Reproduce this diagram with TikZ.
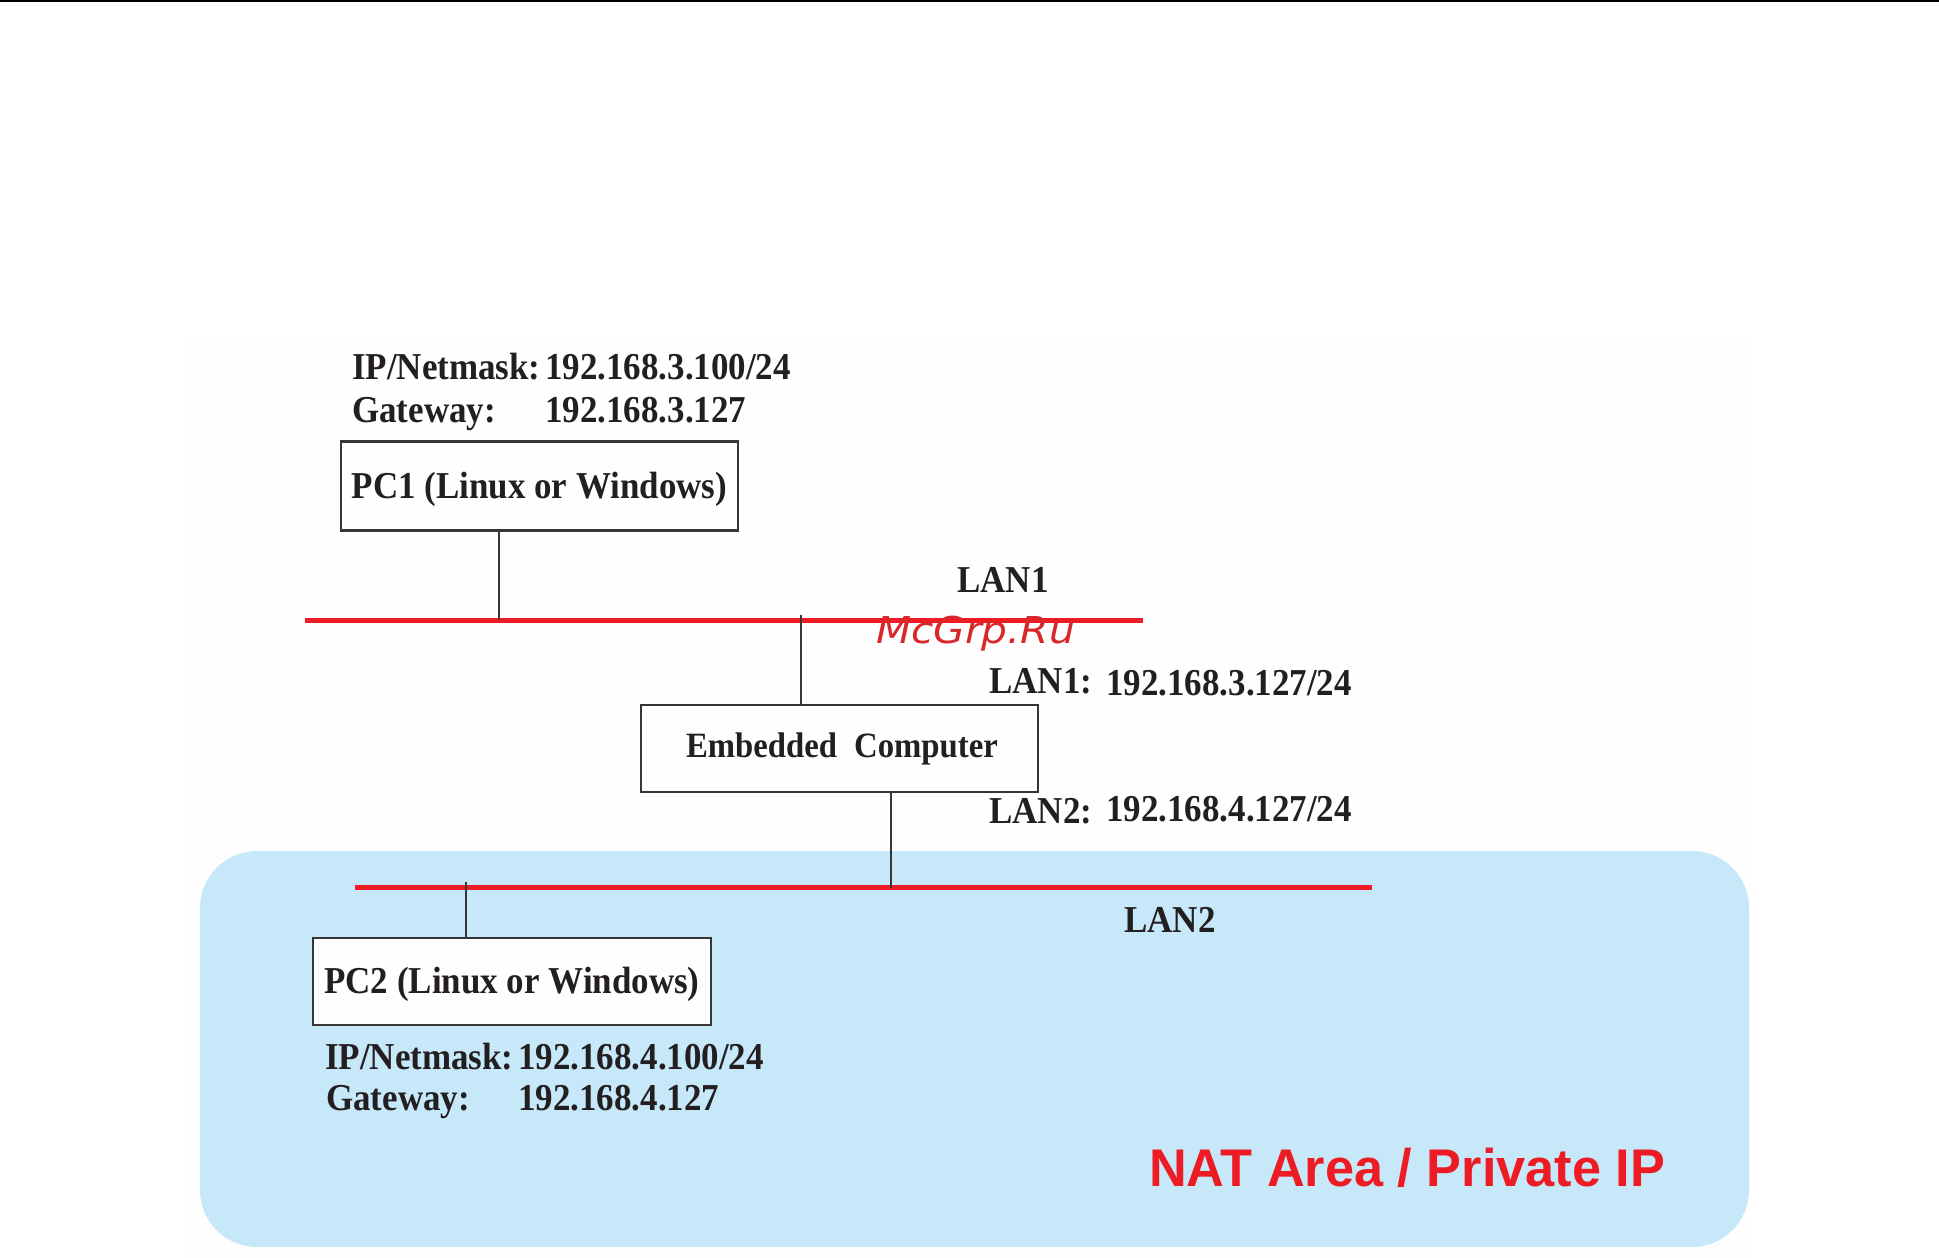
\documentclass[tikz,border=0pt]{standalone}
\usepackage{fontspec}
\newfontfamily\labfont[FakeStretch=0.92]{Liberation Serif}
\newfontfamily\natfont[FakeStretch=0.986]{Liberation Sans}
\newfontfamily\wmfont[FakeStretch=1.1]{DejaVu Sans}
\definecolor{ink}{HTML}{231F20}
\definecolor{busred}{HTML}{ED1C24}
\definecolor{natblue}{HTML}{C6E8F9}
\definecolor{wmred}{HTML}{D8282C}
\definecolor{paper}{HTML}{FEFEFE}
\tikzset{
  lab/.style={anchor=base west,inner sep=0pt,text=ink,font=\labfont\bfseries\fontsize{38}{38}\selectfont},
  hostbox/.style={draw=ink!90,line width=2.6pt,fill=paper,inner sep=0pt,text=ink,font=\labfont\bfseries\fontsize{38}{38}\selectfont},
  bus/.style={draw=busred,line width=5pt},
  wire/.style={draw=ink!90,line width=2.3pt},
}
\begin{document}
\begin{tikzpicture}[x=1pt,y=-1pt]
\useasboundingbox (0,0) rectangle (1939,1258);
\fill[white] (0,0) rectangle (1939,1258);
\fill[paper] (185,340) rectangle (1750,1258);
\draw[black,line width=2pt] (0,0.5) -- (1939,0.5);
\fill[natblue,rounded corners=57pt] (200,851) rectangle (1749,1247);
% buses
\coordinate (lanAw) at (305,620);
\coordinate (lanAe) at (1143,620);
\coordinate (lanBw) at (355,887);
\coordinate (lanBe) at (1372,887);
\draw[bus] (lanAw) -- (lanAe);
\draw[bus] (lanBw) -- (lanBe);
% boxes
\node[hostbox,minimum width=397pt,minimum height=89pt,text height=30pt,text depth=6pt] (pcone) at (539.5,486) {PC1 (Linux or Windows)};
\node[hostbox,minimum width=397pt,minimum height=87pt,text height=27pt,text depth=10pt,font=\labfont\bfseries\fontsize{35.6}{36}\selectfont] (emb) at (839.5,748.5) {\hspace*{5pt}Embedded\hspace{17pt}Computer};
\node[hostbox,minimum width=398pt,minimum height=87pt,text height=30pt,text depth=7pt] (pctwo) at (512,981.5) {PC2 (Linux or Windows)};
% taps
\coordinate (tapA) at (499,620);
\coordinate (tapB) at (801,615);
\coordinate (tapC) at (891,888);
\coordinate (tapD) at (466,882);
\draw[wire] (pcone.south -| tapA) -- (tapA);
\draw[wire] (tapB) -- (emb.north -| tapB);
\draw[wire] (emb.south -| tapC) -- (tapC);
\draw[wire] (tapD) -- (pctwo.north -| tapD);
% labels
\node[lab] (ipa) at (352,379) {IP/Netmask:};
\node[lab] (ipav) at (545,379) {192.168.3.100/24};
\node[lab] (gwa) at (352,422) {Gateway:};
\node[lab] (gwav) at (545,422) {192.168.3.127};
\node[lab] (busa) at (957,592) {LAN1};
\node[lab] (ifa) at (989,693) {LAN1:};
\node[lab] (ifav) at (1106,695) {192.168.3.127/24};
\node[lab] (ifb) at (989,823) {LAN2:};
\node[lab] (ifbv) at (1106,821) {192.168.4.127/24};
\node[lab] (busb) at (1124,932) {LAN2};
\node[lab] (ipb) at (325,1069) {IP/Netmask:};
\node[lab] (ipbv) at (518,1069) {192.168.4.100/24};
\node[lab] (gwb) at (326,1110) {Gateway:};
\node[lab] (gwbv) at (518,1110) {192.168.4.127};
\node[anchor=base west,inner sep=0pt,text=busred,font=\natfont\bfseries\fontsize{53}{53}\selectfont] (nat) at (1149,1186) {NAT Area / Private IP};
\node[anchor=base west,inner sep=0pt,text=wmred,font=\wmfont\itshape\fontsize{37}{37}\selectfont] (wm) at (876,643) {McGrp.Ru};
\end{tikzpicture}
\end{document}
